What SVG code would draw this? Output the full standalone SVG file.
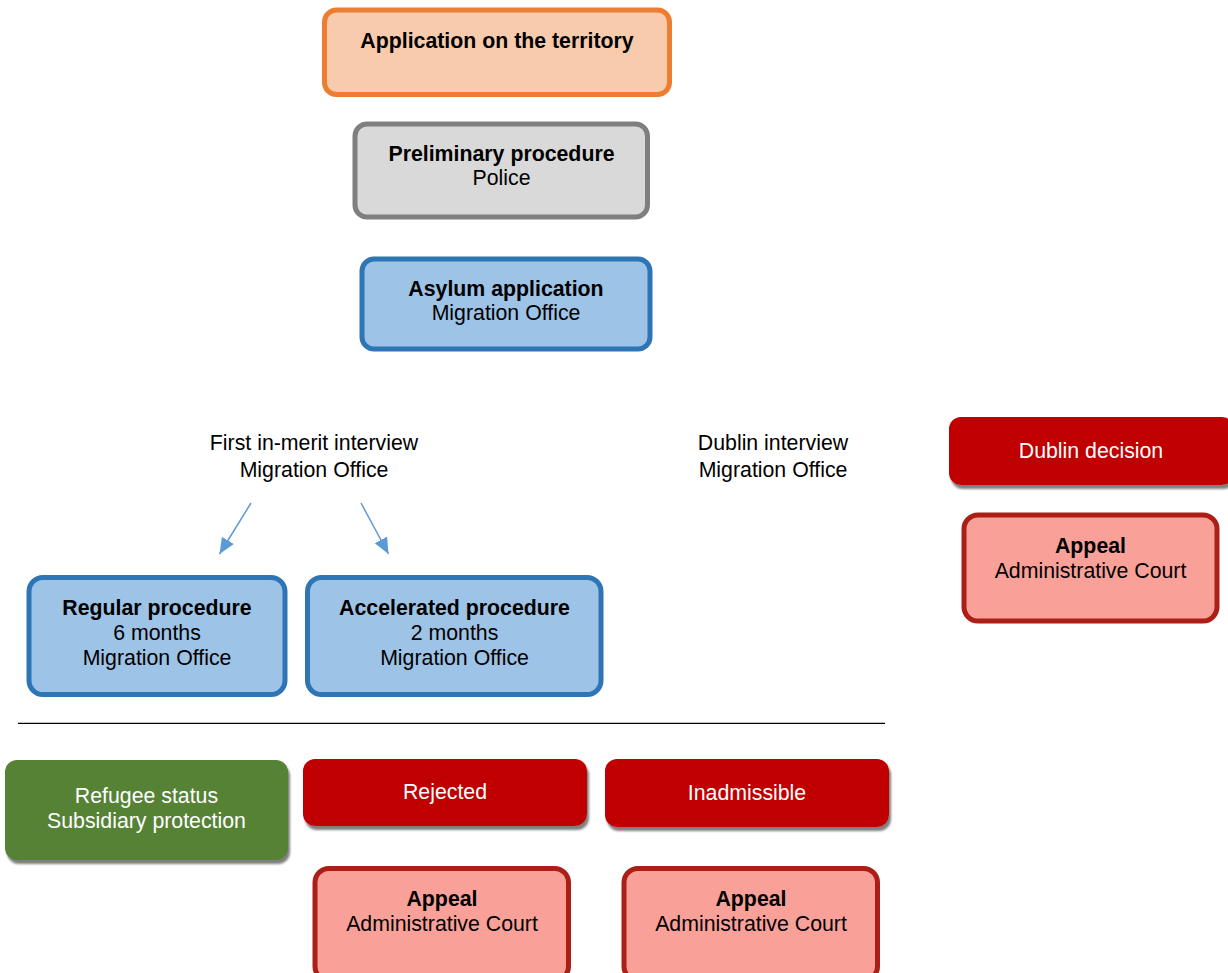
<svg xmlns="http://www.w3.org/2000/svg" width="1228" height="973" viewBox="0 0 1228 973">
<style>
text{font-family:"Liberation Sans",Arial,sans-serif;font-size:21.3px;text-anchor:middle;fill:#000}
.b{font-weight:bold}
.w{fill:#fff}
.orange{fill:#F7CBAC;stroke:#ED7D31;stroke-width:5}
.gray{fill:#D9D9D9;stroke:#7F7F7F;stroke-width:5}
.blue{fill:#9DC3E6;stroke:#2E75B6;stroke-width:5}
.appeal{fill:#F9A199;stroke:#AB1F16;stroke-width:5}
.red{fill:#C00000;filter:url(#sh)}
.green{fill:#548235;filter:url(#sh)}
.conn{stroke:#5B9BD5;stroke-width:1.5;fill:none;marker-end:url(#ah)}
</style>
<defs>
<filter id="sh" x="-10%" y="-10%" width="120%" height="130%">
<feDropShadow dx="2" dy="4" stdDeviation="1" flood-color="#7F7F7F" flood-opacity="1"/>
</filter>
<marker id="ah" markerUnits="userSpaceOnUse" markerWidth="18" markerHeight="16" refX="16" refY="7" orient="auto">
<path d="M0,0 L16,7 L0,14 z" fill="#5B9BD5"/>
</marker>
</defs>
<rect width="1228" height="973" fill="#fff"/>
<g id="app-territory">
<rect class="orange" x="324.5" y="10" width="345" height="84.5" rx="12"/>
<text class="b" x="497" y="48">Application on the territory</text>
</g>
<g id="preliminary">
<rect class="gray" x="355" y="124" width="292.5" height="93" rx="12"/>
<text class="b" x="501.5" y="161">Preliminary procedure</text>
<text x="501.5" y="185">Police</text>
</g>
<g id="asylum">
<rect class="blue" x="362" y="259" width="288" height="90" rx="12"/>
<text class="b" x="506" y="296">Asylum application</text>
<text x="506" y="320">Migration Office</text>
</g>
<g id="first-interview">
<text x="314" y="450">First in-merit interview</text>
<text x="314" y="477">Migration Office</text>
</g>
<g id="dublin-interview">
<text x="773" y="450">Dublin interview</text>
<text x="773" y="477">Migration Office</text>
</g>
<g id="dublin-decision">
<rect class="red" x="949" y="417" width="285" height="68" rx="12"/>
<text class="w" x="1091" y="458">Dublin decision</text>
</g>
<g id="appeal-dublin">
<rect class="appeal" x="964" y="515" width="253" height="106" rx="14"/>
<text class="b" x="1090.5" y="553">Appeal</text>
<text x="1090.5" y="578">Administrative Court</text>
</g>
<g id="regular">
<rect class="blue" x="29" y="577.5" width="256" height="117" rx="14"/>
<text class="b" x="157" y="615">Regular procedure</text>
<text x="157" y="640">6 months</text>
<text x="157" y="665">Migration Office</text>
</g>
<g id="accelerated">
<rect class="blue" x="307.5" y="577.5" width="293.5" height="117" rx="14"/>
<text class="b" x="454.5" y="615">Accelerated procedure</text>
<text x="454.5" y="640">2 months</text>
<text x="454.5" y="665">Migration Office</text>
</g>
<g id="refugee">
<rect class="green" x="5" y="760" width="283" height="100" rx="12"/>
<text class="w" x="146.5" y="803">Refugee status</text>
<text class="w" x="146.5" y="828">Subsidiary protection</text>
</g>
<g id="rejected">
<rect class="red" x="303" y="759" width="284" height="67" rx="12"/>
<text class="w" x="445" y="799">Rejected</text>
</g>
<g id="inadmissible">
<rect class="red" x="605" y="759" width="284" height="68" rx="12"/>
<text class="w" x="747" y="800">Inadmissible</text>
</g>
<g id="appeal-rejected">
<rect class="appeal" x="315" y="868.5" width="253.5" height="112" rx="14"/>
<text class="b" x="442" y="906">Appeal</text>
<text x="442" y="931">Administrative Court</text>
</g>
<g id="appeal-inadmissible">
<rect class="appeal" x="624" y="868.5" width="253.5" height="112" rx="14"/>
<text class="b" x="751" y="906">Appeal</text>
<text x="751" y="931">Administrative Court</text>
</g>
<g id="connectors">
<line class="conn" x1="251" y1="503" x2="219.5" y2="554"/>
<line class="conn" x1="361" y1="503" x2="388.5" y2="554"/>
<line x1="18" y1="723.3" x2="885" y2="723.3" stroke="#000" stroke-width="1.3"/>
</g>
</svg>
